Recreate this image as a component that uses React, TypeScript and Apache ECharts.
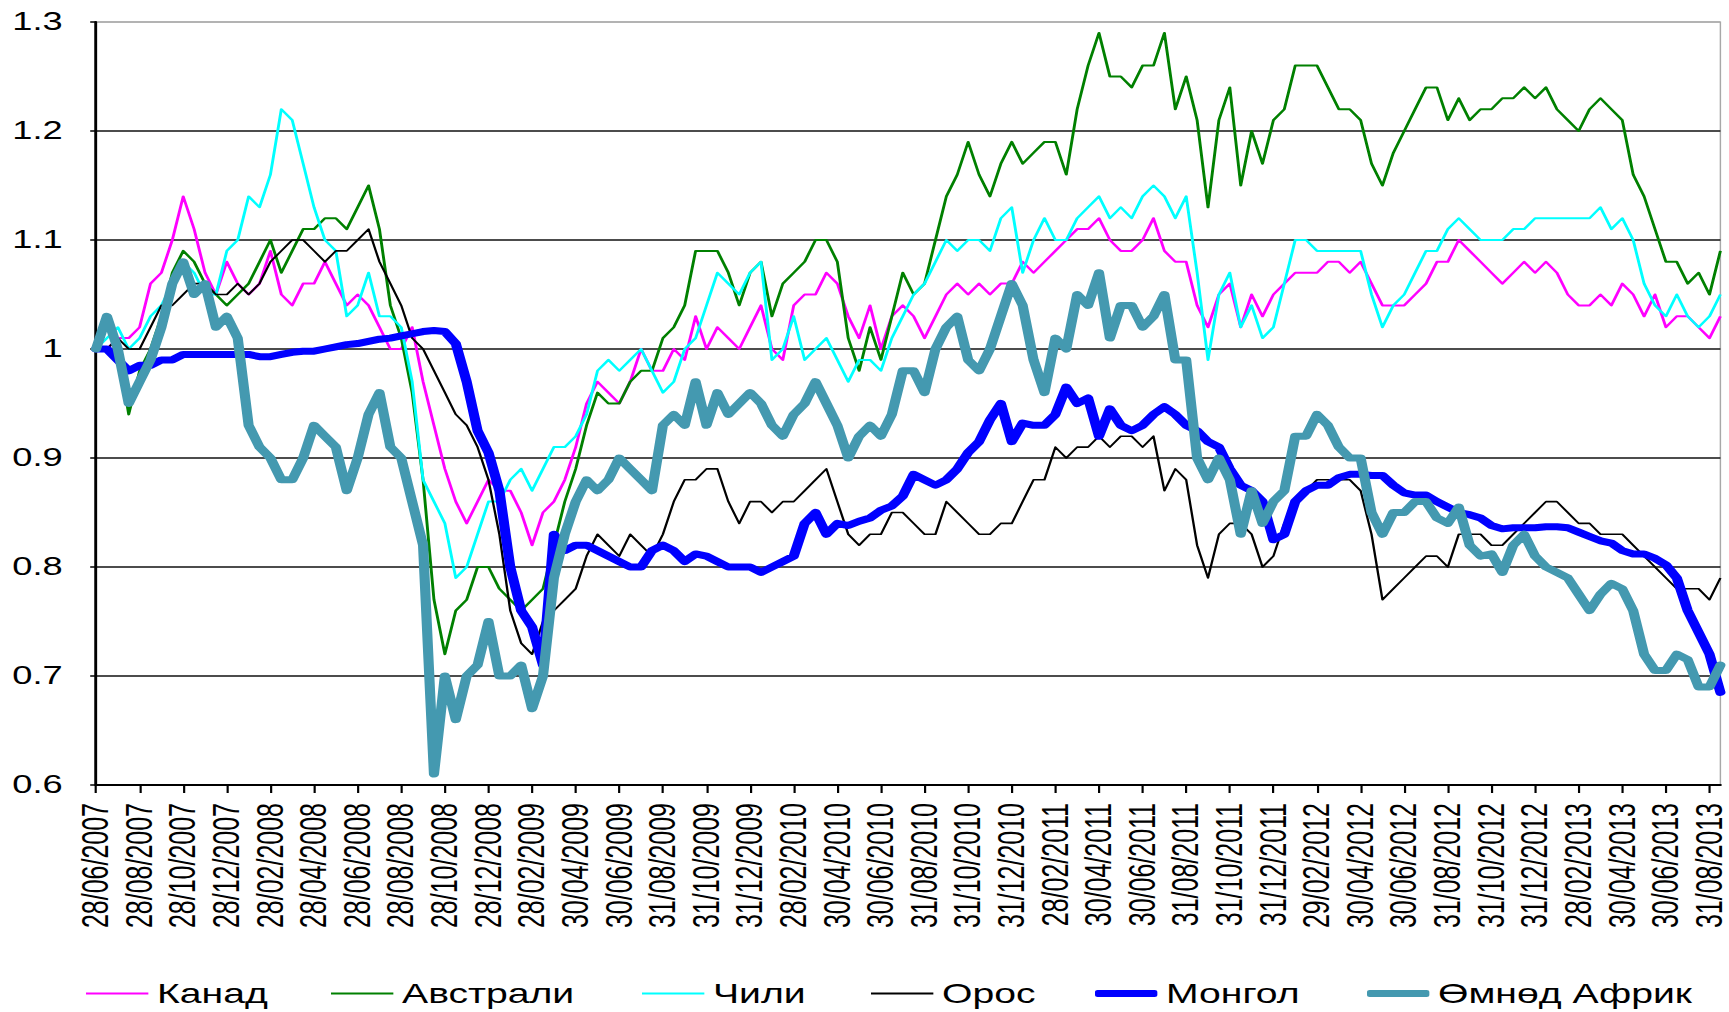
import React, { useEffect, useRef } from "react";
import * as echarts from "echarts";

// ---------- data ----------
const tickLabels = [
  "28/06/2007", "28/08/2007", "28/10/2007", "28/12/2007", "28/02/2008", "28/04/2008",
  "28/06/2008", "28/08/2008", "28/10/2008", "28/12/2008", "28/02/2009", "30/04/2009",
  "30/06/2009", "31/08/2009", "31/10/2009", "31/12/2009", "28/02/2010", "30/04/2010",
  "30/06/2010", "31/08/2010", "31/10/2010", "31/12/2010", "28/02/2011", "30/04/2011",
  "30/06/2011", "31/08/2011", "31/10/2011", "31/12/2011", "29/02/2012", "30/04/2012",
  "30/06/2012", "31/08/2012", "31/10/2012", "31/12/2012", "28/02/2013", "30/04/2013",
  "30/06/2013", "31/08/2013",
];
const samplesPerTick = 4;

const seriesNames = ["Канад", "Австрали", "Чили", "Орос", "Монгол", "Өмнөд Африк"];

const canada = [
  1.00, 1.00, 1.01, 1.01, 1.02, 1.06, 1.07, 1.10, 1.14, 1.11,
  1.07, 1.05, 1.08, 1.06, 1.05, 1.06, 1.09, 1.05, 1.04, 1.06,
  1.06, 1.08, 1.06, 1.04, 1.05, 1.04, 1.02, 1.00, 1.00, 1.02,
  0.97, 0.93, 0.89, 0.86, 0.84, 0.86, 0.88, 0.87, 0.87, 0.85,
  0.82, 0.85, 0.86, 0.88, 0.91, 0.95, 0.97, 0.96, 0.95, 0.97,
  1.00, 0.98, 0.98, 1.00, 0.99, 1.03, 1.00, 1.02, 1.01, 1.00,
  1.02, 1.04, 1.00, 0.99, 1.04, 1.05, 1.05, 1.07, 1.06, 1.03,
  1.01, 1.04, 1.00, 1.03, 1.04, 1.03, 1.01, 1.03, 1.05, 1.06,
  1.05, 1.06, 1.05, 1.06, 1.06, 1.08, 1.07, 1.08, 1.09, 1.10,
  1.11, 1.11, 1.12, 1.10, 1.09, 1.09, 1.10, 1.12, 1.09, 1.08,
  1.08, 1.04, 1.02, 1.05, 1.06, 1.02, 1.05, 1.03, 1.05, 1.06,
  1.07, 1.07, 1.07, 1.08, 1.08, 1.07, 1.08, 1.06, 1.04, 1.04,
  1.04, 1.05, 1.06, 1.08, 1.08, 1.10, 1.09, 1.08, 1.07, 1.06,
  1.07, 1.08, 1.07, 1.08, 1.07, 1.05, 1.04, 1.04, 1.05, 1.04,
  1.06, 1.05, 1.03, 1.05, 1.02, 1.03, 1.03, 1.02, 1.01, 1.03,
];

const australia = [
  1.00, 1.03, 1.00, 0.94, 0.98, 1.00, 1.03, 1.07, 1.09, 1.08,
  1.06, 1.05, 1.04, 1.05, 1.06, 1.08, 1.10, 1.07, 1.09, 1.11,
  1.11, 1.12, 1.12, 1.11, 1.13, 1.15, 1.11, 1.04, 1.01, 0.96,
  0.88, 0.77, 0.72, 0.76, 0.77, 0.80, 0.80, 0.78, 0.77, 0.76,
  0.77, 0.78, 0.82, 0.86, 0.89, 0.93, 0.96, 0.95, 0.95, 0.97,
  0.98, 0.98, 1.01, 1.02, 1.04, 1.09, 1.09, 1.09, 1.07, 1.04,
  1.07, 1.08, 1.03, 1.06, 1.07, 1.08, 1.10, 1.10, 1.08, 1.01,
  0.98, 1.02, 0.99, 1.03, 1.07, 1.05, 1.06, 1.10, 1.14, 1.16,
  1.19, 1.16, 1.14, 1.17, 1.19, 1.17, 1.18, 1.19, 1.19, 1.16,
  1.22, 1.26, 1.29, 1.25, 1.25, 1.24, 1.26, 1.26, 1.29, 1.22,
  1.25, 1.21, 1.13, 1.21, 1.24, 1.15, 1.20, 1.17, 1.21, 1.22,
  1.26, 1.26, 1.26, 1.24, 1.22, 1.22, 1.21, 1.17, 1.15, 1.18,
  1.20, 1.22, 1.24, 1.24, 1.21, 1.23, 1.21, 1.22, 1.22, 1.23,
  1.23, 1.24, 1.23, 1.24, 1.22, 1.21, 1.20, 1.22, 1.23, 1.22,
  1.21, 1.16, 1.14, 1.11, 1.08, 1.08, 1.06, 1.07, 1.05, 1.09,
];

const chile = [
  1.00, 1.01, 1.02, 1.00, 1.01, 1.03, 1.04, 1.06, 1.08, 1.07,
  1.05, 1.05, 1.09, 1.10, 1.14, 1.13, 1.16, 1.22, 1.21, 1.17,
  1.13, 1.10, 1.09, 1.03, 1.04, 1.07, 1.03, 1.03, 1.02, 0.97,
  0.88, 0.86, 0.84, 0.79, 0.80, 0.83, 0.86, 0.86, 0.88, 0.89,
  0.87, 0.89, 0.91, 0.91, 0.92, 0.94, 0.98, 0.99, 0.98, 0.99,
  1.00, 0.98, 0.96, 0.97, 1.00, 1.01, 1.04, 1.07, 1.06, 1.05,
  1.07, 1.08, 0.99, 1.00, 1.03, 0.99, 1.00, 1.01, 0.99, 0.97,
  0.99, 0.99, 0.98, 1.01, 1.03, 1.05, 1.06, 1.08, 1.10, 1.09,
  1.10, 1.10, 1.09, 1.12, 1.13, 1.07, 1.10, 1.12, 1.10, 1.10,
  1.12, 1.13, 1.14, 1.12, 1.13, 1.12, 1.14, 1.15, 1.14, 1.12,
  1.14, 1.07, 0.99, 1.05, 1.07, 1.02, 1.04, 1.01, 1.02, 1.06,
  1.10, 1.10, 1.09, 1.09, 1.09, 1.09, 1.09, 1.05, 1.02, 1.04,
  1.05, 1.07, 1.09, 1.09, 1.11, 1.12, 1.11, 1.10, 1.10, 1.10,
  1.11, 1.11, 1.12, 1.12, 1.12, 1.12, 1.12, 1.12, 1.13, 1.11,
  1.12, 1.10, 1.06, 1.04, 1.03, 1.05, 1.03, 1.02, 1.03, 1.05,
];

const russia = [
  1.00, 1.00, 1.01, 1.00, 1.00, 1.02, 1.04, 1.04, 1.05, 1.06,
  1.06, 1.05, 1.05, 1.06, 1.05, 1.06, 1.08, 1.09, 1.10, 1.10,
  1.09, 1.08, 1.09, 1.09, 1.10, 1.11, 1.08, 1.06, 1.04, 1.01,
  1.00, 0.98, 0.96, 0.94, 0.93, 0.91, 0.88, 0.83, 0.76, 0.73,
  0.72, 0.75, 0.76, 0.77, 0.78, 0.81, 0.83, 0.82, 0.81, 0.83,
  0.82, 0.81, 0.83, 0.86, 0.88, 0.88, 0.89, 0.89, 0.86, 0.84,
  0.86, 0.86, 0.85, 0.86, 0.86, 0.87, 0.88, 0.89, 0.86, 0.83,
  0.82, 0.83, 0.83, 0.85, 0.85, 0.84, 0.83, 0.83, 0.86, 0.85,
  0.84, 0.83, 0.83, 0.84, 0.84, 0.86, 0.88, 0.88, 0.91, 0.90,
  0.91, 0.91, 0.92, 0.91, 0.92, 0.92, 0.91, 0.92, 0.87, 0.89,
  0.88, 0.82, 0.79, 0.83, 0.84, 0.84, 0.83, 0.80, 0.81, 0.84,
  0.86, 0.87, 0.88, 0.88, 0.88, 0.88, 0.87, 0.83, 0.77, 0.78,
  0.79, 0.80, 0.81, 0.81, 0.80, 0.83, 0.83, 0.83, 0.82, 0.82,
  0.83, 0.84, 0.85, 0.86, 0.86, 0.85, 0.84, 0.84, 0.83, 0.83,
  0.83, 0.82, 0.81, 0.80, 0.79, 0.78, 0.78, 0.78, 0.77, 0.79,
];

const mongolia = [
  1.00, 1.00, 0.99, 0.98, 0.985, 0.985, 0.99, 0.99, 0.995, 0.995,
  0.995, 0.995, 0.995, 0.995, 0.995, 0.993, 0.993, 0.995, 0.997, 0.998,
  0.998, 1.00, 1.002, 1.004, 1.005, 1.007, 1.009, 1.01, 1.012, 1.014,
  1.016, 1.017, 1.016, 1.005, 0.97, 0.925, 0.905, 0.87, 0.80, 0.76,
  0.745, 0.71, 0.83, 0.815, 0.82, 0.82, 0.815, 0.81, 0.805, 0.80,
  0.80, 0.815, 0.82, 0.815, 0.805, 0.812, 0.81, 0.805, 0.80, 0.80,
  0.80, 0.795, 0.80, 0.805, 0.81, 0.84, 0.85, 0.83, 0.84, 0.838,
  0.842, 0.845, 0.852, 0.856, 0.865, 0.885, 0.88, 0.875, 0.88, 0.89,
  0.905, 0.915, 0.935, 0.95, 0.915, 0.932, 0.93, 0.93, 0.94, 0.965,
  0.95, 0.955, 0.92, 0.945, 0.93, 0.925, 0.93, 0.94, 0.947, 0.94,
  0.93, 0.925, 0.915, 0.91, 0.89, 0.875, 0.87, 0.86, 0.825, 0.83,
  0.86, 0.87, 0.875, 0.875, 0.882, 0.885, 0.885, 0.884, 0.884, 0.875,
  0.868, 0.866, 0.866, 0.86, 0.855, 0.85, 0.848, 0.845, 0.838, 0.835,
  0.836, 0.836, 0.836, 0.837, 0.837, 0.836, 0.832, 0.828, 0.824, 0.822,
  0.815, 0.812, 0.812, 0.808, 0.802, 0.79, 0.76, 0.74, 0.72, 0.685,
];

const southAfrica = [
  1.00, 1.03, 1.00, 0.95, 0.97, 0.99, 1.02, 1.06, 1.08, 1.05,
  1.06, 1.02, 1.03, 1.01, 0.93, 0.91, 0.90, 0.88, 0.88, 0.90,
  0.93, 0.92, 0.91, 0.87, 0.90, 0.94, 0.96, 0.91, 0.90, 0.86,
  0.82, 0.61, 0.70, 0.66, 0.70, 0.71, 0.75, 0.70, 0.70, 0.71,
  0.67, 0.70, 0.79, 0.83, 0.86, 0.88, 0.87, 0.88, 0.90, 0.89,
  0.88, 0.87, 0.93, 0.94, 0.93, 0.97, 0.93, 0.96, 0.94, 0.95,
  0.96, 0.95, 0.93, 0.92, 0.94, 0.95, 0.97, 0.95, 0.93, 0.90,
  0.92, 0.93, 0.92, 0.94, 0.98, 0.98, 0.96, 1.00, 1.02, 1.03,
  0.99, 0.98, 1.00, 1.03, 1.06, 1.04, 0.99, 0.96, 1.01, 1.00,
  1.05, 1.04, 1.07, 1.01, 1.04, 1.04, 1.02, 1.03, 1.05, 0.99,
  0.99, 0.90, 0.88, 0.90, 0.88, 0.83, 0.87, 0.84, 0.86, 0.87,
  0.92, 0.92, 0.94, 0.93, 0.91, 0.90, 0.90, 0.85, 0.83, 0.85,
  0.85, 0.86, 0.86, 0.845, 0.84, 0.855, 0.82, 0.81, 0.812, 0.795,
  0.82, 0.83, 0.81, 0.80, 0.795, 0.79, 0.775, 0.76, 0.775, 0.785,
  0.78, 0.76, 0.72, 0.705, 0.705, 0.72, 0.715, 0.69, 0.69, 0.71,
];

const yMin = 0.6;
const yMax = 1.3;
const yStep = 0.1;

// ---------- layout / style ----------
const STRETCH = 1.45; // the reference is horizontally stretched
const FULL_W = 1729;
const FULL_H = 1012;
const PRE_W = FULL_W / STRETCH;
const px = (fullX: number) => fullX / STRETCH;

const FONT = "'Liberation Sans', Arial, Helvetica, sans-serif";

const seriesStyles = [
  { color: "#FF00FF", width: 2, thick: false, legendX: 86 },
  { color: "#008000", width: 2, thick: false, legendX: 331 },
  { color: "#00FFFF", width: 2, thick: false, legendX: 642 },
  { color: "#000000", width: 1.6, thick: false, legendX: 871 },
  { color: "#0000FF", width: 7, thick: true, legendX: 1095 },
  { color: "#4499B0", width: 7, thick: true, legendX: 1367 },
];

export default function App() {
  const ref = useRef<HTMLDivElement>(null);

  useEffect(() => {
    if (!ref.current) return;
    const chart = echarts.init(ref.current, null, { renderer: "svg" });

    const allSeries = [canada, australia, chile, russia, mongolia, southAfrica];
    const n = canada.length;
    const categories: string[] = [];
    for (let i = 0; i < n; i++) {
      const t = tickLabels[Math.floor(i / samplesPerTick)];
      categories.push(i % samplesPerTick === 0 ? t : `${t} +${i % samplesPerTick}`);
    }

    const gridLineColors: string[] = [];
    const nLines = Math.round((yMax - yMin) / yStep) + 1;
    for (let k = 0; k < nLines; k++) gridLineColors.push(k === nLines - 1 ? "#a8a8a8" : "#111111");

    const option: any = {
      animation: false,
      backgroundColor: "#ffffff",
      textStyle: { fontFamily: FONT },
      grid: {
        left: px(96),
        right: px(FULL_W - 1721),
        top: 22,
        bottom: FULL_H - 785,
        containLabel: false,
        outerBoundsMode: "none",
        show: true,
        borderColor: "#a8a8a8",
        borderWidth: 1,
        backgroundColor: "transparent",
      },
      xAxis: {
        type: "category",
        data: categories,
        boundaryGap: false,
        axisLine: { show: true, lineStyle: { color: "#000", width: 2 } },
        axisTick: { show: true, interval: samplesPerTick - 1, length: 8, lineStyle: { color: "#000", width: 1.5 } },
        axisLabel: {
          interval: samplesPerTick - 1,
          rotate: 90,
          margin: 18,
          fontSize: 25,
          fontFamily: FONT,
          color: "#000",
        },
        splitLine: { show: false },
      },
      yAxis: {
        type: "value",
        min: yMin,
        max: yMax,
        interval: yStep,
        axisLine: { show: true, lineStyle: { color: "#000", width: 2 } },
        axisTick: { show: true, length: 4, lineStyle: { color: "#000", width: 1.5 } },
        axisLabel: {
          margin: 23,
          fontSize: 25,
          fontFamily: FONT,
          color: "#000",
        },
        splitLine: { show: true, lineStyle: { color: gridLineColors, width: 1.6 } },
      },
      legend: seriesNames.map((name, k) => ({
        data: [{ name, icon: seriesStyles[k].thick ? "roundRect" : "rect" }],
        left: px(seriesStyles[k].legendX),
        top: 980,
        padding: 0,
        itemWidth: 43,
        itemHeight: seriesStyles[k].thick ? 7 : 2,
        itemStyle: { borderWidth: 0 },
        selectedMode: false,
        textStyle: { fontSize: 27, fontFamily: FONT, color: "#000", padding: [0, 0, 0, 1] },
      })),
      series: seriesNames.map((name, k) => ({
        name,
        type: "line",
        data: allSeries[k],
        showSymbol: false,
        symbol: "none",
        silent: true,
        color: seriesStyles[k].color,
        lineStyle: {
          color: seriesStyles[k].color,
          width: seriesStyles[k].width,
          cap: seriesStyles[k].thick ? "round" : "butt",
          join: "round",
        },
        z: 2 + k,
      })),
    };

    chart.setOption(option);
    return () => chart.dispose();
  }, []);

  return (
    <div
      ref={ref}
      style={{
        position: "fixed",
        left: 0,
        top: 0,
        width: PRE_W,
        height: FULL_H,
        transform: `scaleX(${STRETCH})`,
        transformOrigin: "0 0",
        background: "#fff",
      }}
    />
  );
}
